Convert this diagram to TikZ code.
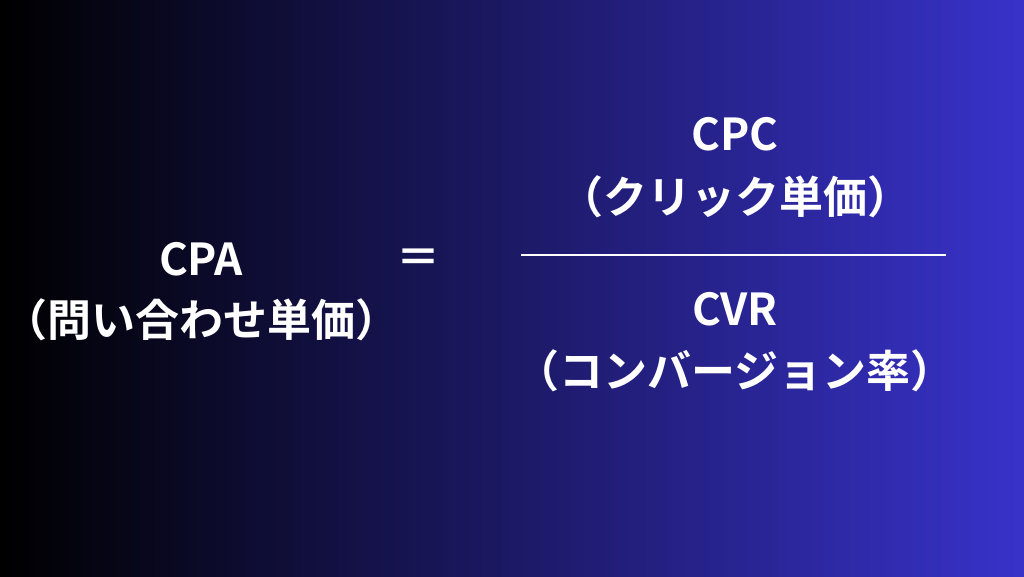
\documentclass[tikz,border=0pt]{standalone}
\usepackage{fontspec}
\setmainfont{Noto Sans CJK JP}[BoldFont=* Bold]
\begin{document}
\begin{tikzpicture}[x=1pt,y=-1pt,
  txt/.style={text=white,font=\fontsize{44}{52}\selectfont\bfseries,inner sep=0pt,anchor=base},
  bar/.style={draw=white,line width=2.6pt}]
\useasboundingbox (0,0) rectangle (1024,576);
\shade[left color=black, right color={rgb,255:red,56;green,50;blue,202}, shading angle=90] (0,0) rectangle (1024,576);
\node[txt] (cpa) at (201,275) {CPA};
\node[txt] (cpaj) at (201,336) {（問い合わせ単価）};
\node[txt] (eq) at (418,273) {＝};
\node[txt] (cpc) at (735,150) {CPC};
\node[txt] (cpcj) at (735,213) {（クリック単価）};
\coordinate (l1) at (521,255);
\coordinate (l2) at (946,255);
\draw[bar] (l1) -- (l2);
\node[txt] (cvr) at (735,325) {CVR};
\node[txt] (cvrj) at (735,387) {（コンバージョン率）};
\end{tikzpicture}
\end{document}
